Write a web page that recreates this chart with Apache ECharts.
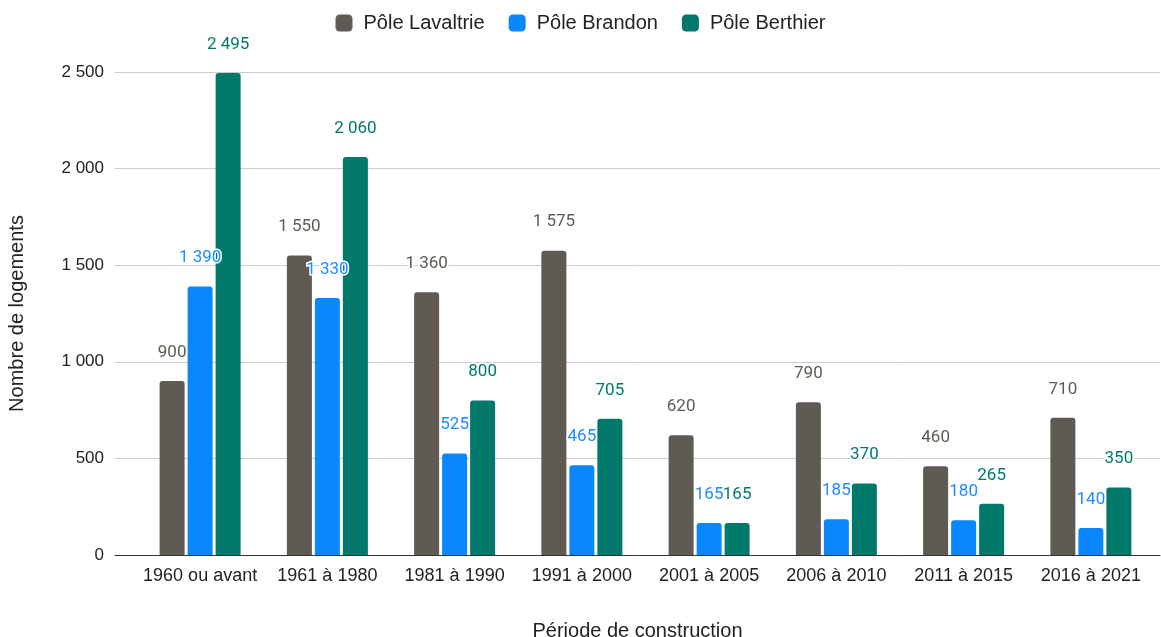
<!DOCTYPE html>
<html>
<head>
<meta charset="utf-8">
<script src="https://cdn.jsdelivr.net/npm/echarts@6/dist/echarts.min.js"></script>
<style>
  html, body { margin: 0; padding: 0; background: #fff; }
  #main { width: 1161px; height: 637px; }
</style>
</head>
<body>
<div id="main"></div>
<script>
// périodes de construction
var periodes = ['1960 ou avant', '1961 à 1980', '1981 à 1990', '1991 à 2000', '2001 à 2005', '2006 à 2010', '2011 à 2015', '2016 à 2021'];
var lavaltrie = [900, 1550, 1360, 1575, 620, 790, 460, 710];
var brandon = [1390, 1330, 525, 465, 165, 185, 180, 140];
var berthier = [2495, 2060, 800, 705, 165, 370, 265, 350];
var yTicks = [0, 500, 1000, 1500, 2000, 2500];

var colGris = '#5f5a53';
var colBleu = '#0a87ff';
var colVert = '#00796b';

function fmt(v) { // séparateur de milliers
  return String(v).replace(/\B(?=(\d{3})+(?!\d))/g, ' ');
}

function serie(nom, data, couleur, labelCouleur) {
  return {
    name: nom,
    type: 'bar',
    xAxisIndex: 1,
    yAxisIndex: 1,
    data: data,
    barWidth: 25,
    barGap: '12%',
    itemStyle: { color: couleur, borderRadius: [3, 3, 0, 0] },
    label: {
      show: true,
      position: 'top',
      distance: 20,
      color: labelCouleur,
      fontFamily: 'Roboto',
      fontSize: 17,
      textBorderColor: '#fff',
      textBorderWidth: 3,
      formatter: function (p) { return fmt(p.value); }
    }
  };
}

var chart = echarts.init(document.getElementById('main'));
chart.setOption({
  animation: false,
  legend: {
    top: 8,
    left: 'center',
    itemWidth: 17,
    itemHeight: 17,
    itemGap: 24,
    icon: 'roundRect',
    textStyle: { fontFamily: 'Liberation Sans', fontSize: 20, color: '#222', padding: [0, 0, 0, 6] },
    data: ['Pôle Lavaltrie', 'Pôle Brandon', 'Pôle Berthier']
  },
  grid: [
    { left: 115, right: 1, top: 72, bottom: 82, outerBoundsMode: 'none' },
    { left: 136.5, right: 6.5, top: 72, bottom: 82, outerBoundsMode: 'none' }
  ],
  xAxis: [{
    gridIndex: 0,
    type: 'value',
    min: 0,
    max: 1,
    name: 'Période de construction',
    nameLocation: 'middle',
    nameGap: 66,
    nameTextStyle: { fontFamily: 'Liberation Sans', fontSize: 20, color: '#222' },
    axisLine: { show: true, lineStyle: { color: '#333', width: 1 } },
    axisTick: { show: false },
    axisLabel: { show: false },
    splitLine: { show: false }
  }, {
    gridIndex: 1,
    type: 'category',
    data: periodes,
    axisLine: { show: false },
    axisTick: { show: false },
    axisLabel: { interval: 0, fontFamily: 'Liberation Sans', fontSize: 18, color: '#222', margin: 12 }
  }],
  yAxis: [{
    gridIndex: 0,
    type: 'value',
    min: yTicks[0],
    max: yTicks[yTicks.length - 1],
    interval: 500,
    name: 'Nombre de logements',
    nameLocation: 'middle',
    nameGap: 88,
    nameTextStyle: { fontFamily: 'Liberation Sans', fontSize: 20, color: '#222' },
    axisLine: { show: false },
    axisTick: { show: false },
    axisLabel: { fontFamily: 'Liberation Sans', fontSize: 17, color: '#222', margin: 11, formatter: fmt },
    splitLine: { lineStyle: { color: '#cccccc', width: 1 } }
  }, {
    gridIndex: 1,
    type: 'value',
    min: yTicks[0],
    max: yTicks[yTicks.length - 1],
    interval: 500,
    show: false,
    splitLine: { show: false }
  }],
  series: [
    serie('Pôle Lavaltrie', lavaltrie, colGris, '#5f5a53'),
    serie('Pôle Brandon', brandon, colBleu, '#1a8cff'),
    serie('Pôle Berthier', berthier, colVert, colVert)
  ]
});
</script>
</body>
</html>
